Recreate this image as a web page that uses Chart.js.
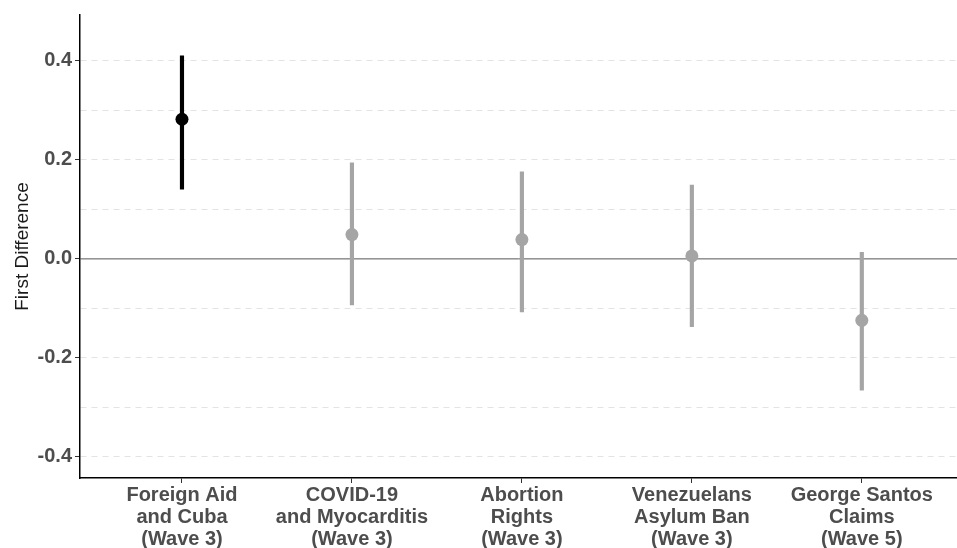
<!DOCTYPE html>
<html>
<head>
<meta charset="utf-8">
<script src="https://cdn.jsdelivr.net/npm/chart.js@4"></script>
<style>
  html, body { margin: 0; padding: 0; background: #fff; }
  #wrap { width: 957px; height: 548px; }
</style>
</head>
<body>
<div id="wrap"><canvas id="fdChart" width="957" height="548"></canvas></div>
<script>
const categories = [
    ["Foreign Aid", "and Cuba", "(Wave 3)"],
    ["COVID-19", "and Myocarditis", "(Wave 3)"],
    ["Abortion", "Rights", "(Wave 3)"],
    ["Venezuelans", "Asylum Ban", "(Wave 3)"],
    ["George Santos", "Claims", "(Wave 5)"],
];
const estimates = [0.282, 0.049, 0.039, 0.006, -0.124];
const lower = [0.141, -0.093, -0.107, -0.137, -0.265];
const upper = [0.410, 0.194, 0.176, 0.149, 0.013];
const highlighted = [true, false, false, false, false];
const yTickLabels = [-0.4, -0.2, 0.0, 0.2, 0.4];
const yGridValues = [-0.4, -0.3, -0.2, -0.1, 0.0, 0.1, 0.2, 0.3, 0.4];

const colorDark = "#000000", colorGrey = "#a5a5a5", colorText = "#4d4d4d";
const fontFamily = "'Liberation Sans', Arial, Helvetica, sans-serif";

const xMin = -0.6, xMax = 4.56;
const pointColors = highlighted.map((h) => h ? colorDark : colorGrey);

const isMajor = (v) => yTickLabels.some((t) => Math.abs(t - v) < 1e-6);

const ctx = document.getElementById("fdChart").getContext("2d");

new Chart(ctx, {
    data: {
        datasets: [
            {
                type: "scatter",
                label: "estimate",
                data: estimates.map((y, i) => ({ x: i, y: y })),
                backgroundColor: pointColors,
                borderWidth: 0,
                pointRadius: 6.5,
                pointHoverRadius: 6.5,
            },
            {
                type: "bar",
                label: "interval",
                data: lower.map((lo, i) => ({ x: i, y: [lo, upper[i]] })),
                backgroundColor: pointColors,
                borderWidth: 0,
                barThickness: 3.5,
            },
            {
                type: "line",
                label: "zero",
                data: [{ x: xMin, y: 0 }, { x: xMax, y: 0 }],
                borderColor: "#555555",
                borderWidth: 1,
                pointRadius: 0,
                fill: false,
            },
        ],
    },
    options: {
        responsive: false,
        animation: false,
        layout: { autoPadding: false, padding: { top: 13, right: 0, left: 0, bottom: 0 } },
        plugins: {
            legend: { display: false },
            tooltip: { enabled: false },
        },
        scales: {
            x: {
                type: "linear",
                min: xMin,
                max: xMax,
                offset: false,
                afterBuildTicks: (scale) => {
                    scale.ticks = categories.map((c, i) => ({ value: i }));
                },
                afterFit: (scale) => { scale.height = 70; },
                ticks: {
                    autoSkip: false,
                    maxRotation: 0,
                    padding: 2,
                    color: colorText,
                    font: { family: fontFamily, size: 20, weight: "bold", lineHeight: 1.08 },
                    callback: (v) => categories[v],
                },
                grid: {
                    offset: false,
                    drawOnChartArea: false,
                    drawTicks: true,
                    tickLength: 5,
                    tickColor: "#333333",
                    tickWidth: 1,
                },
                border: { color: colorDark, width: 1.5 },
            },
            y: {
                type: "linear",
                min: -0.4425,
                max: 0.4925,
                afterBuildTicks: (scale) => {
                    scale.ticks = yGridValues.map((v) => ({ value: v }));
                },
                afterFit: (scale) => { scale.width = 80; },
                ticks: {
                    autoSkip: false,
                    padding: 3,
                    color: colorText,
                    font: { family: fontFamily, size: 20, weight: "bold" },
                    callback: (v) => isMajor(v) ? v.toFixed(1) : "",
                },
                grid: {
                    color: (c) => Math.abs(c.tick.value) < 1e-6 ? "transparent" : "#e3e3e3",
                    lineWidth: 1,
                    drawTicks: true,
                    tickLength: 5,
                    tickColor: (c) => isMajor(c.tick.value) ? "#333333" : "transparent",
                    tickBorderDash: [],
                },
                border: { color: colorDark, width: 1.5, dash: [6, 5] },
                title: {
                    display: true,
                    text: "First Difference",
                    color: "#1a1a1a",
                    font: { family: fontFamily, size: 19 },
                    padding: { top: 11, bottom: 0 },
                },
            },
        },
    },
});
</script>
</body>
</html>
